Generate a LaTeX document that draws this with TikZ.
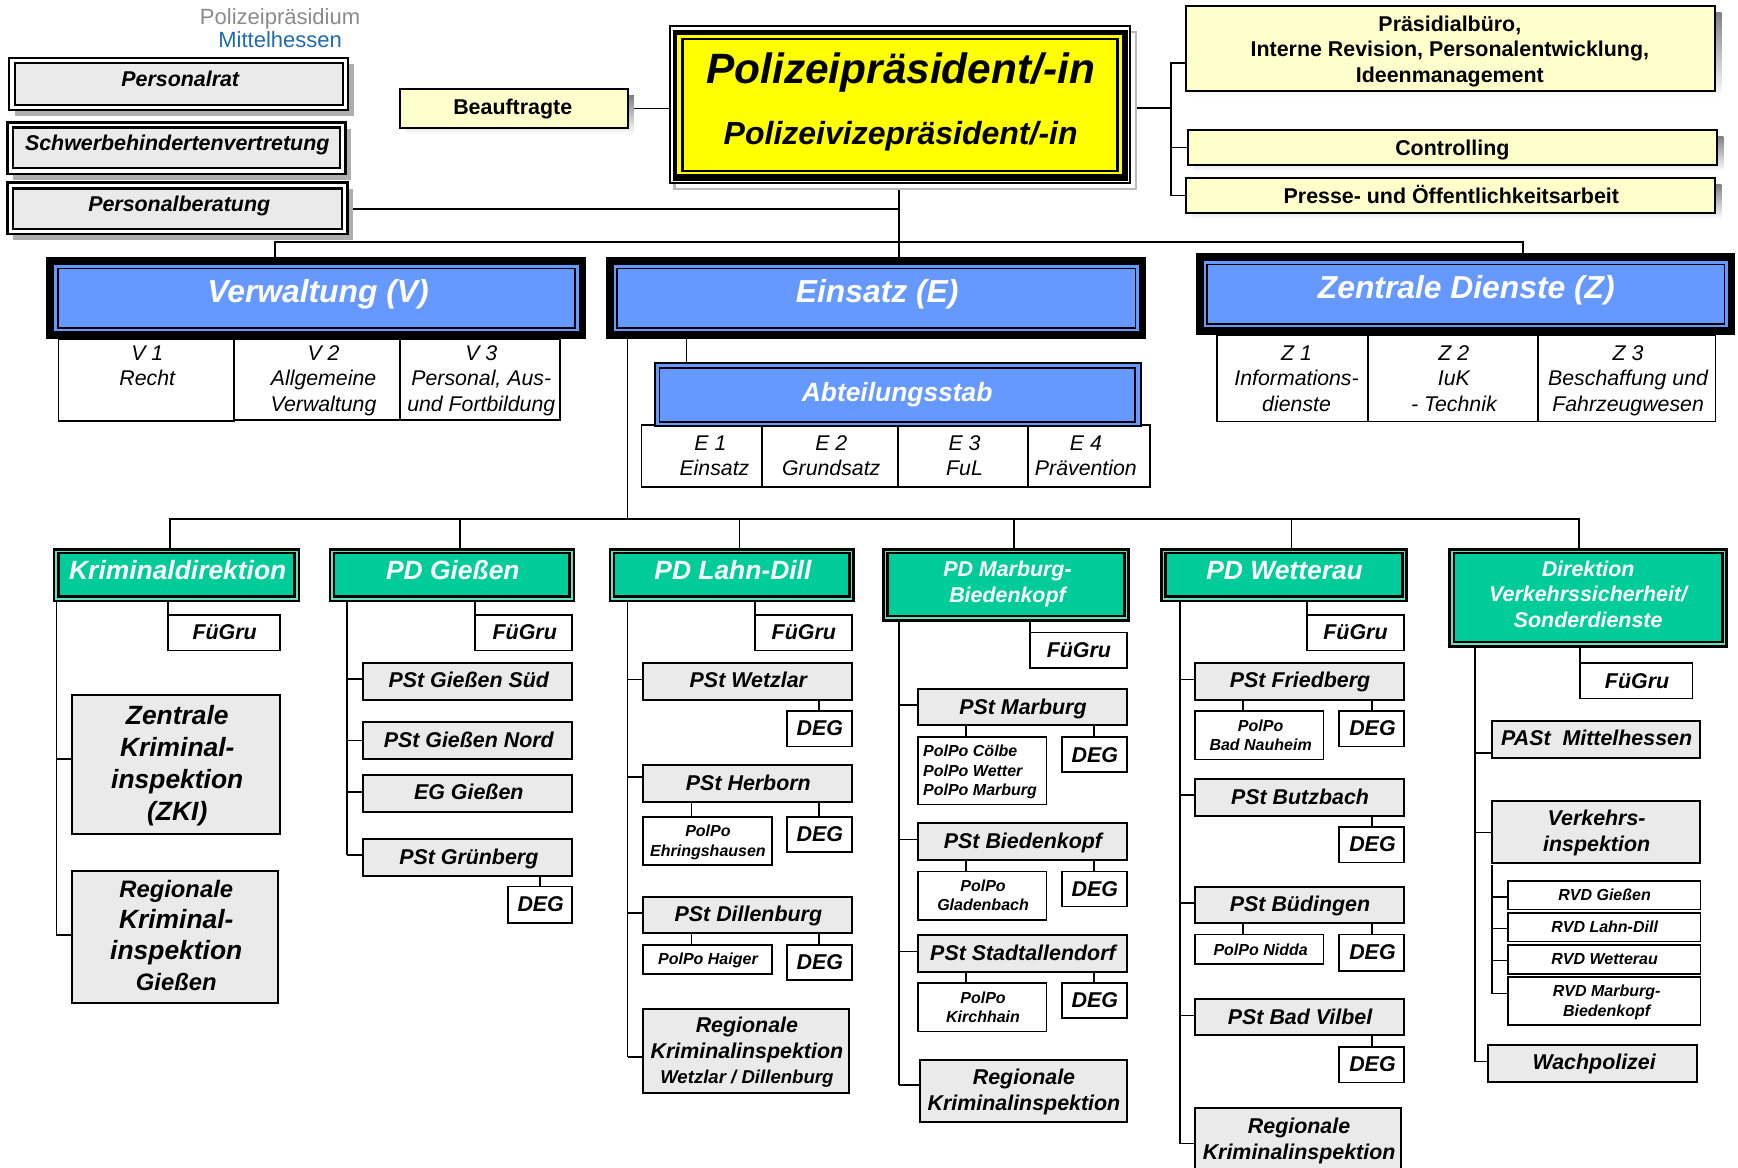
\documentclass[tikz,border=0pt]{standalone}
\usepackage{fontspec}
\setmainfont{Liberation Sans}
\usetikzlibrary{backgrounds}
\definecolor{pale}{HTML}{FFFFCC}
\definecolor{boxgrey}{HTML}{EAEAEA}
\definecolor{bluefill}{HTML}{6699FF}
\definecolor{greenfill}{HTML}{00CC99}
\definecolor{shade}{HTML}{8C8C8C}
\definecolor{logoblue}{HTML}{1F6BB0}
\definecolor{logogrey}{HTML}{8A8A8A}
\definecolor{puryellow}{HTML}{FFFF00}
\newsavebox{\bxsave}
% style, name, x0,y0,x1,y1, text centre x,y, text
\newcommand{\Bx}[9]{%
  \pgfmathsetmacro{\bxw}{(#5-#3)*0.49925}%
  \pgfmathsetmacro{\bxh}{(#6-#4)*0.5}%
  \pgfmathsetmacro{\bxcx}{(#3+#5)/2}%
  \pgfmathsetmacro{\bxcy}{(#4+#6)/2}%
  \pgfmathsetmacro{\bxdx}{(#7-\bxcx)}%
  \pgfmathsetmacro{\bxdy}{(\bxcy-#8)*0.5-1.1}%
  \node[#1,inner sep=0pt,outer sep=0pt,minimum width=\bxw pt,minimum height=\bxh pt] (#2) at (\bxcx,\bxcy)
    {\sbox{\bxsave}{\begin{tabular}{@{}c@{}}#9\end{tabular}}%
     \raisebox{\dimexpr \bxdy pt+(\dp\bxsave-\ht\bxsave)/2\relax}[0pt][0pt]{\makebox[0pt]{\hspace*{\bxdx pt}\usebox{\bxsave}}}};%
}
\newcommand{\Hb}[3]{\coordinate (hbtmp) at (0,#3); \draw[conn] (#1 |- hbtmp) -- (#2.west |- hbtmp);}
\newcommand{\Vb}[3]{\coordinate (vbtmp) at (#3,0); \draw[conn] (vbtmp |- #1.south) -- (vbtmp |- #2.north);}
\newcommand{\Vc}[3]{\coordinate (vbtmp) at (#3,0); \draw[conn] (vbtmp |- #1) -- (vbtmp |- #2.north);}
\newcommand{\Tr}[4]{\coordinate (#1) at (#3,#4); \draw[conn] (#1 |- #2.south) -- (#1);}
\newcommand{\Sh}[4]{\fill[shade] (#1,#2) rectangle (#3,#4);}
\tikzset{
  conn/.style={draw=black,line width=0.9pt},
  fbi/.style={font=\fontsize{10.7}{12.75}\selectfont\bfseries\itshape},
  fsm/.style={font=\fontsize{8}{9.75}\selectfont\bfseries\itshape},
  fb/.style={font=\fontsize{10.7}{12.75}\selectfont\bfseries},
  ftab/.style={font=\fontsize{10.65}{12.75}\selectfont\itshape},
  fhead/.style={font=\fontsize{13.2}{15}\selectfont\bfseries\itshape,text=white},
  fsub/.style={font=\fontsize{10.7}{12.75}\selectfont\bfseries\itshape,text=white},
  fdiv/.style={font=\fontsize{15.9}{18}\selectfont\bfseries\itshape,text=white},
  greybox/.style={draw=black,line width=1pt,fill=boxgrey},
  whitebox/.style={draw=black,line width=0.9pt,fill=white},
  palebox/.style={draw=black,line width=1pt,fill=pale,fb},
  cellbox/.style={draw=black,line width=0.9pt,fill=white,ftab},
  bluebox/.style={draw=black,line width=0.75pt,fill=bluefill},
  greenbox/.style={draw=black,line width=1.3pt,fill=greenfill},
}
\newcommand{\Grn}[4]{\fill[black] (#1,#2) rectangle (#3,#4);
  \fill[greenfill!60!white] (#1+2.5,#2+2.5) rectangle (#3-2.5,#4-2.5);}
\newcommand{\Blu}[4]{\fill[black] (#1,#2) rectangle (#3,#4);
  \fill[bluefill] (#1+8,#2+8) rectangle (#3-7,#4-8);}
\newcommand{\Twin}[4]{\fill[shade!70!white] (#1+6,#2+6) rectangle (#3+6,#4+6);
  \draw[line width=1.3pt,fill=white] (#1,#2) rectangle (#3,#4);}
\begin{document}
\begin{tikzpicture}[x=0.49925pt,y=-0.5pt]
\useasboundingbox (0pt,0pt) rectangle (869pt,-583.5pt);
\clip (0pt,0pt) rectangle (869pt,-583.5pt);
\begin{scope}[xshift=0.25pt]
% logo
\node[font=\fontsize{11}{13}\selectfont,text=logogrey,inner sep=0pt] (logoa) at (280,19) {Polizeipräsidium};
\node[font=\fontsize{11}{13}\selectfont,text=logoblue,inner sep=0pt] (logob) at (280,40) {Mittelhessen};
% staff boxes left
\Twin{8.5}{58}{348}{110}
\Bx{greybox,line width=1.2pt,fbi}{prat}{14.5}{63}{343}{105}{180}{79}{Personalrat}
\Twin{7}{122.5}{345.5}{174}
\Bx{greybox,line width=1.2pt,fbi}{sbv}{12.5}{127.5}{340}{168}{177}{143}{Schwerbehindertenvertretung}
\Twin{7}{182.5}{347.5}{234}
\Bx{greybox,line width=1.2pt,fbi}{pberat}{12.5}{188.5}{342}{229}{179}{204}{Personalberatung}
% Beauftragte
\Sh{406}{95}{634}{134}
\Bx{palebox}{beauf}{400}{89}{628}{128}{513}{107}{Beauftragte}
% President
\draw[draw=shade!60!white,line width=1.2pt,fill=white] (675,32) rectangle (1137,189);
\draw[line width=1pt,fill=white] (670,26) rectangle (1131,183);
\fill[black] (673,30) rectangle (1129,181);
\fill[puryellow] (678,35) rectangle (1123,174);
\Bx{draw=black,line width=1.25pt,fill=puryellow,font=\fontsize{16}{30.5}\selectfont\bfseries\itshape}{pres}{683}{39}{1118.5}{171}{901.5}{100}{{\fontsize{21.2}{25}\selectfont Polizeipräsident/-in}\\Polizeivizepräsident/-in}
% right boxes
\Sh{1193.5}{12}{1723.5}{97}
\Bx{palebox}{prbuero}{1187.5}{6}{1717.5}{91}{1451.5}{49.5}{Präsidialbüro,\\Interne Revision, Personalentwicklung,\\Ideenmanagement}
\Sh{1195}{136}{1725.5}{171}
\Bx{palebox}{contr}{1189}{130}{1719.5}{165}{1454}{148}{Controlling}
\Sh{1193.5}{184}{1723.5}{219}
\Bx{palebox}{presse}{1187.5}{178}{1717.5}{213}{1453}{196}{Presse- und Öffentlichkeitsarbeit}
% tables
\Bx{cellbox}{vone}{58}{339}{234}{421}{147}{378.5}{V 1\\Recht\\\mbox{}}
\Bx{cellbox}{vtwo}{234}{339}{400}{420}{323.5}{378.5}{V 2\\Allgemeine\\Verwaltung}
\Bx{cellbox}{vthree}{400}{339}{560.5}{420}{481.5}{378.5}{V 3\\Personal, Aus-\\und Fortbildung}
\Bx{cellbox}{zone}{1218}{335}{1369.5}{421.5}{1298}{378.5}{Z 1\\Informations-\\dienste}
\Bx{cellbox}{ztwo}{1369.5}{335}{1540}{421.5}{1455.5}{378.5}{Z 2\\IuK\\- Technik}
\Bx{cellbox}{zthree}{1540}{335}{1717.5}{421.5}{1630}{378.5}{Z 3\\Beschaffung und\\Fahrzeugwesen}
\Bx{cellbox}{eone}{642}{425}{763}{487}{711}{455.5}{E 1\\\hspace*{4pt}Einsatz}
\Bx{cellbox}{etwo}{763}{425}{899}{487}{832}{455.5}{E 2\\Grundsatz}
\Bx{cellbox}{ethree}{899}{425}{1029}{487}{965.5}{455.5}{E 3\\FuL}
\Bx{cellbox}{efour}{1029}{425}{1151}{487}{1087}{455.5}{E 4\\Prävention}
% divisions
\Blu{46}{257}{586}{339}
\Bx{bluebox,fdiv}{verw}{57.5}{268.5}{575.5}{328}{318}{293}{Verwaltung (V)}
\Blu{606}{257}{1147}{339}
\Bx{bluebox,fdiv}{eins}{617.5}{268.5}{1136.5}{328}{878}{293}{Einsatz (E)}
\Blu{1197}{253}{1737}{335}
\Bx{bluebox,fdiv}{zent}{1208.5}{264.5}{1726.5}{324}{1468}{289}{Zentrale Dienste (Z)}
% Abteilungsstab
\draw[draw=black,line width=1pt,fill=bluefill] (655.5,362.5) rectangle (1142,426);
\Bx{bluebox,fhead}{abt}{660}{368}{1136}{422}{898}{393}{Abteilungsstab}
% green headers
\Grn{52.5}{548}{300}{602}
\Bx{greenbox,fhead}{kd}{58}{553}{294.5}{596.5}{177.5}{571.5}{Kriminaldirektion}
\Grn{328.5}{548}{575.5}{602}
\Bx{greenbox,fhead}{pdg}{334}{553}{570}{596.5}{453}{571.5}{PD Gießen}
\Grn{609}{548}{855.5}{602}
\Bx{greenbox,fhead}{pdl}{614.5}{553}{850}{596.5}{733.5}{571.5}{PD Lahn-Dill}
\Grn{883}{548}{1131}{621.5}
\Bx{greenbox,fsub}{pdm}{888.5}{553}{1125.5}{616}{1008.5}{582}{PD Marburg-\\Biedenkopf}
\Grn{1161.5}{548}{1409.5}{602}
\Bx{greenbox,fhead}{pdw}{1167}{553}{1404}{596.5}{1286}{571.5}{PD Wetterau}
\Grn{1450}{548}{1730}{647.5}
\Bx{greenbox,fsub}{dvs}{1455.5}{553}{1724.5}{642}{1590}{594.5}{Direktion\\Verkehrssicherheit/\\Sonderdienste}
% Kriminaldirektion column
\Bx{whitebox,fbi}{fgk}{168}{615}{280}{650.5}{224.5}{632.5}{FüGru}
\Bx{greybox,font=\fontsize{13.2}{16}\selectfont\bfseries\itshape}{zki}{71.5}{695}{280}{834}{177}{764}{Zentrale\\Kriminal-\\inspektion\\(ZKI)}
\Bx{greybox,font=\fontsize{13.2}{15.5}\selectfont\bfseries\itshape}{rkig}{71.5}{871}{277.5}{1003}{176}{936}{{\fontsize{11.9}{14}\selectfont Regionale}\\Kriminal-\\inspektion\\{\fontsize{11.9}{14}\selectfont Gießen}}
% Giessen column
\Bx{whitebox,fbi}{fgg}{475.5}{615}{572.5}{650.5}{525}{632.5}{FüGru}
\Bx{greybox,fbi}{gsued}{363.5}{662.5}{572.5}{699.5}{469}{680.5}{PSt Gießen Süd}
\Bx{greybox,fbi}{gnord}{363.5}{722}{572.5}{758.5}{469}{740}{PSt Gießen Nord}
\Bx{greybox,fbi}{geg}{363.5}{775}{572.5}{812}{469}{792.5}{EG Gießen}
\Bx{greybox,fbi}{ggrue}{363.5}{839}{572.5}{875.5}{469}{857}{PSt Grünberg}
\Bx{whitebox,fbi}{gdeg}{508}{886.5}{572.5}{923}{541}{904.5}{DEG}
% Lahn-Dill column
\Bx{whitebox,fbi}{fgl}{756}{615}{852.5}{650.5}{804.5}{632.5}{FüGru}
\Bx{greybox,fbi}{lwetz}{643.5}{662.5}{852.5}{699.5}{749}{680.5}{PSt Wetzlar}
\Bx{whitebox,fbi}{ldega}{788}{711}{852.5}{746.5}{820.5}{728.5}{DEG}
\Bx{greybox,fbi}{lherb}{643.5}{765}{852.5}{801.5}{749}{783}{PSt Herborn}
\Bx{whitebox,fsm}{lehr}{643.5}{817}{772.5}{865}{708.5}{840.5}{PolPo\\Ehringshausen}
\Bx{whitebox,fbi}{ldegb}{788}{817}{852.5}{852}{820.5}{834.5}{DEG}
\Bx{greybox,fbi}{ldill}{643.5}{896.5}{852.5}{933}{749}{914.5}{PSt Dillenburg}
\Bx{whitebox,fsm}{lhaig}{643.5}{945}{772.5}{974}{708.5}{958.5}{PolPo Haiger}
\Bx{whitebox,fbi}{ldegc}{788}{945}{852.5}{980}{820.5}{962.5}{DEG}
\Bx{greybox,fbi}{lrki}{643.5}{1008.5}{850}{1092.5}{747.5}{1051}{Regionale\\Kriminalinspektion\\{\fontsize{9.3}{10}\selectfont Wetzlar / Dillenburg}}
% Marburg column
\Bx{whitebox,fbi}{fgm}{1031}{632.5}{1128}{668}{1080}{650}{FüGru}
\Bx{greybox,fbi}{mmarb}{919}{688.5}{1128}{725}{1024}{707}{PSt Marburg}
\Bx{whitebox,fsm}{mpol}{919}{737}{1047.5}{804.5}{981}{770}{\begin{tabular}{@{}l@{}}PolPo Cölbe\\PolPo Wetter\\PolPo Marburg\end{tabular}}
\Bx{whitebox,fbi}{mdega}{1063}{737}{1128}{772}{1096}{755}{DEG}
\Bx{greybox,fbi}{mbied}{919}{823}{1128}{859.5}{1024}{841}{PSt Biedenkopf}
\Bx{whitebox,fsm}{mglad}{919}{871.5}{1047.5}{920}{984}{895}{PolPo\\Gladenbach}
\Bx{whitebox,fbi}{mdegb}{1063}{871.5}{1128}{906.5}{1096}{889}{DEG}
\Bx{greybox,fbi}{mstad}{919}{934.5}{1128}{971.5}{1024}{953}{PSt Stadtallendorf}
\Bx{whitebox,fsm}{mkirch}{919}{983}{1047.5}{1031.5}{984}{1007}{PolPo\\Kirchhain}
\Bx{whitebox,fbi}{mdegc}{1063}{983}{1128}{1018}{1096}{1000.5}{DEG}
\Bx{greybox,fbi}{mrki}{920.5}{1060}{1128}{1122}{1025}{1090}{Regionale\\Kriminalinspektion}
% Wetterau column
\Bx{whitebox,fbi}{fgw}{1308.5}{615}{1405.5}{650.5}{1357}{632.5}{FüGru}
\Bx{greybox,fbi}{wfried}{1196.5}{663}{1405.5}{699.5}{1301.5}{680.5}{PSt Friedberg}
\Bx{whitebox,fsm}{wnau}{1196.5}{711}{1325}{759.5}{1262}{735}{PolPo\\Bad Nauheim}
\Bx{whitebox,fbi}{wdega}{1340.5}{711}{1405.5}{746.5}{1374}{728.5}{DEG}
\Bx{greybox,fbi}{wbutz}{1196.5}{779}{1405.5}{815.5}{1301.5}{797}{PSt Butzbach}
\Bx{whitebox,fbi}{wdegb}{1340.5}{827}{1405.5}{862.5}{1374}{844.5}{DEG}
\Bx{greybox,fbi}{wbued}{1196.5}{886.5}{1405.5}{923}{1301.5}{904.5}{PSt Büdingen}
\Bx{whitebox,fsm}{wnid}{1196.5}{934.5}{1325}{964}{1262}{949.5}{PolPo Nidda}
\Bx{whitebox,fbi}{wdegc}{1340.5}{934.5}{1405.5}{971}{1374}{952}{DEG}
\Bx{greybox,fbi}{wvil}{1196.5}{999}{1405.5}{1035}{1301.5}{1017}{PSt Bad Vilbel}
\Bx{whitebox,fbi}{wdegd}{1340.5}{1047}{1405.5}{1082.5}{1374}{1064.5}{DEG}
\Bx{greybox,fbi}{wrki}{1196.5}{1108}{1403}{1180}{1300.5}{1139}{Regionale\\Kriminalinspektion}
% Direktion column
\Bx{whitebox,fbi}{fgd}{1581.5}{663}{1694.5}{698.5}{1639}{681}{FüGru}
\Bx{greybox,fbi}{dpast}{1493.5}{720.5}{1702.5}{757.5}{1598.5}{738.5}{PASt\ \ Mittelhessen}
\Bx{greybox,fbi}{dvi}{1493.5}{800.5}{1702.5}{862.5}{1598.5}{831}{Verkehrs-\\inspektion}
\Bx{whitebox,fsm}{rvga}{1509.5}{881}{1702.5}{909.5}{1606.5}{894.5}{RVD Gießen}
\Bx{whitebox,fsm}{rvla}{1509.5}{913}{1702.5}{941.5}{1606.5}{926.5}{RVD Lahn-Dill}
\Bx{whitebox,fsm}{rvwe}{1509.5}{945}{1702.5}{974}{1606.5}{958.5}{RVD Wetterau}
\Bx{whitebox,fsm}{rvma}{1509.5}{977}{1702.5}{1025}{1608.5}{1000.5}{RVD Marburg-\\Biedenkopf}
\Bx{greybox,fbi}{dwach}{1490}{1045}{1699.5}{1082}{1596}{1062.5}{Wachpolizei}
\end{scope}
% connectors, behind all boxes
\begin{scope}[on background layer,xshift=0.25pt]
\draw[conn] (beauf.east) -- (pres.west |- beauf.east);
\coordinate (rtop) at (1172.5,108);
\draw[conn] (pres.east |- rtop) -- (rtop);
\coordinate (rbus) at (1172.5,63);
\draw[conn] (prbuero.west |- rbus) -- (rbus) -- (rbus |- presse.west) -- (presse.west);
\draw[conn] (rbus |- contr.west) -- (contr.west);
\draw[conn] (pberat.east) -- (pberat.east -| pres.south);
\Vb{pres}{eins}{900}
\coordinate (busa) at (275,242);
\coordinate (busb) at (1525,242);
\draw[conn] (verw.north -| busa) -- (busa) -- (busb) -- (zent.north -| busb);
\Vb{eins}{abt}{687}
\coordinate (busc) at (170,519);
\coordinate (busd) at (1581,519);
\coordinate (buse) at (628,519);
\draw[conn] (eins.south -| buse) -- (buse);
\draw[conn] (kd.north -| busc) -- (busc) -- (busd) -- (dvs.north -| busd);
\Vc{busc}{pdg}{460}
\Vc{busc}{pdl}{740}
\Vc{busc}{pdm}{1015}
\Vc{busc}{pdw}{1293}
% Krim
\Tr{tka}{kd}{56}{935}
\Hb{tka}{zki}{759}
\Hb{tka}{rkig}{935}
\Vb{kd}{fgk}{168}
% Giessen
\Tr{tga}{pdg}{347}{855}
\Hb{tga}{gsued}{679}
\Hb{tga}{gnord}{740.5}
\Hb{tga}{geg}{792}
\Hb{tga}{ggrue}{855}
\Vb{pdg}{fgg}{475.5}
\Vb{ggrue}{gdeg}{540}
% Lahn
\Tr{tla}{pdl}{628}{1057}
\Hb{tla}{lwetz}{679.5}
\Hb{tla}{lherb}{777}
\Hb{tla}{ldill}{913}
\Hb{tla}{lrki}{1057}
\Vb{pdl}{fgl}{756}
\Vb{lwetz}{ldega}{820}
\Vb{lherb}{lehr}{692}
\Vb{lherb}{ldegb}{820}
\Vb{ldill}{lhaig}{692}
\Vb{ldill}{ldegc}{820}
% Marburg
\Tr{tma}{pdm}{900}{1085}
\Hb{tma}{mmarb}{705}
\Hb{tma}{mbied}{839.5}
\Hb{tma}{mstad}{951.5}
\Hb{tma}{mrki}{1085}
\Vb{pdm}{fgm}{1031}
\Vb{mmarb}{mpol}{967}
\Vb{mmarb}{mdega}{1095.5}
\Vb{mbied}{mglad}{967}
\Vb{mbied}{mdegb}{1095.5}
\Vb{mstad}{mkirch}{967}
\Vb{mstad}{mdegc}{1095.5}
% Wetterau
\Tr{twe}{pdw}{1181}{1143.5}
\Hb{twe}{wfried}{679.5}
\Hb{twe}{wbutz}{795}
\Hb{twe}{wbued}{903}
\Hb{twe}{wvil}{1015.5}
\Hb{twe}{wrki}{1143.5}
\Vb{pdw}{fgw}{1308.5}
\Vb{wfried}{wnau}{1244.5}
\Vb{wfried}{wdega}{1373.5}
\Vb{wbutz}{wdegb}{1373.5}
\Vb{wbued}{wnid}{1244.5}
\Vb{wbued}{wdegc}{1373.5}
\Vb{wvil}{wdegd}{1373.5}
% Direktion
\Tr{tdi}{dvs}{1477}{1061.5}
\Hb{tdi}{dpast}{753}
\Hb{tdi}{dvi}{832.5}
\Hb{tdi}{dwach}{1061.5}
\Vb{dvs}{fgd}{1581.5}
\coordinate (trv) at (1493.5,993.5);
\draw[conn] (dvi.south -| trv) ++(0,2) -- (trv);
\Hb{trv}{rvga}{897}
\Hb{trv}{rvla}{928.5}
\Hb{trv}{rvwe}{960.5}
\Hb{trv}{rvma}{993.5}
\end{scope}
\end{tikzpicture}
\end{document}
